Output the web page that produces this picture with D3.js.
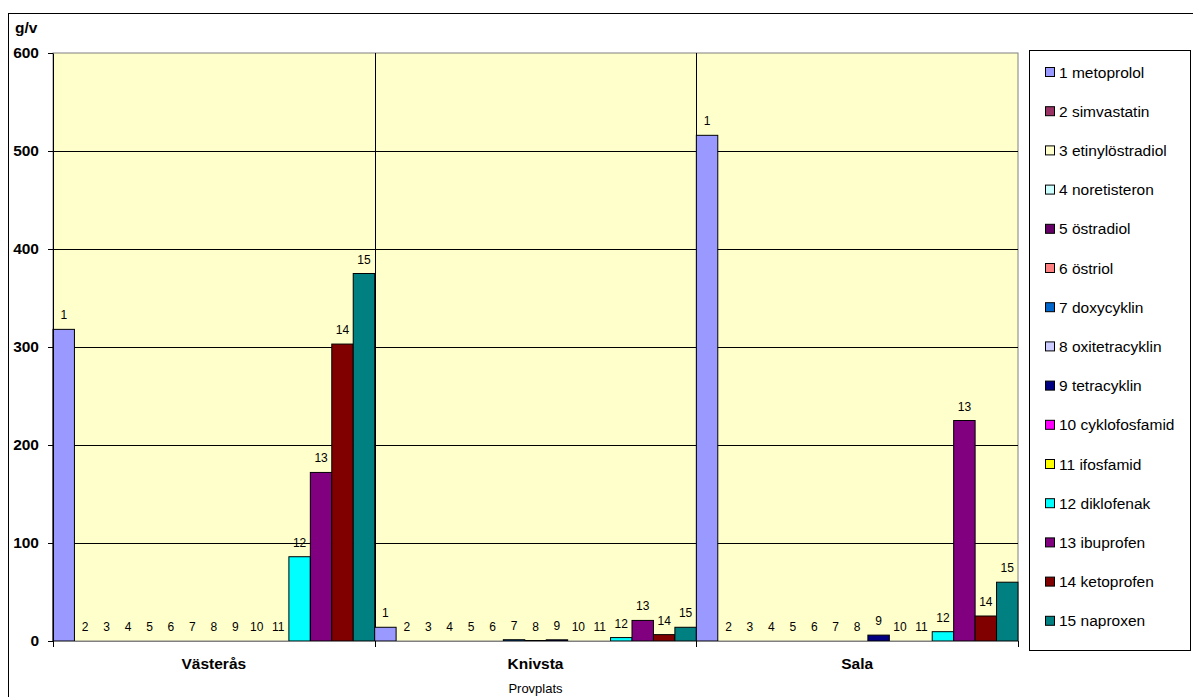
<!DOCTYPE html>
<html><head><meta charset="utf-8">
<script src="https://cdn.jsdelivr.net/npm/d3@7"></script>
<style>body{margin:0;background:#fff;}svg{display:block;font-family:"Liberation Sans",Arial,sans-serif;}</style>
</head><body>
<script>
const categories = ["Västerås", "Knivsta", "Sala"];
const series = ["1 metoprolol","2 simvastatin","3 etinylöstradiol","4 noretisteron","5 östradiol","6 östriol","7 doxycyklin","8 oxitetracyklin","9 tetracyklin","10 cyklofosfamid","11 ifosfamid","12 diklofenak","13 ibuprofen","14 ketoprofen","15 naproxen"];
const colors = ["#9999FF","#993366","#FFFFCC","#CCFFFF","#660066","#FF8080","#0066CC","#CCCCFF","#000080","#FF00FF","#FFFF00","#00FFFF","#800080","#800000","#008080"];
const valuesVasteras = [318,0,0,0,0,0,0,0,0,0,0,86,172,303,375];
const valuesKnivsta  = [14,0,0,0,0,0,1.3,0.5,1.2,0,0,3.5,21,6.5,14];
const valuesSala     = [516,0,0,0,0,0,0,0,6,0,0,9.5,225,25.5,60];
const yTicks = [0,100,200,300,400,500,600];

const data = [valuesVasteras, valuesKnivsta, valuesSala];
const W = 1193, H = 697;
const m = {l:53, r:1018, t:53, b:641};

const svg = d3.select("body").append("svg").attr("width",W).attr("height",H);
svg.append("rect").attr("x",8.5).attr("y",13.5).attr("width",W).attr("height",H).attr("fill","#fff").attr("stroke","#000").attr("stroke-width",1);

const x0 = d3.scaleBand().domain(categories).range([m.l,m.r]).padding(0);
const x1 = d3.scaleBand().domain(d3.range(series.length)).range([0,x0.bandwidth()]).padding(0);
const y = d3.scaleLinear().domain([0,600]).range([m.b,m.t]);

svg.append("rect").attr("x",m.l).attr("y",m.t).attr("width",m.r-m.l).attr("height",m.b-m.t).attr("fill","#FFFFCC").attr("stroke","#808080");

svg.append("g").selectAll("line").data(yTicks.slice(1,-1)).join("line")
  .attr("x1",m.l).attr("x2",m.r).attr("y1",d=>Math.round(y(d))+0.5).attr("y2",d=>Math.round(y(d))+0.5)
  .attr("stroke","#000").attr("stroke-width",1);
svg.append("g").selectAll("line").data(categories.slice(1)).join("line")
  .attr("x1",d=>Math.round(x0(d))+0.5).attr("x2",d=>Math.round(x0(d))+0.5).attr("y1",m.t).attr("y2",m.b)
  .attr("stroke","#000").attr("stroke-width",1);

const g = svg.append("g").selectAll("g").data(categories).join("g").attr("transform",d=>`translate(${x0(d)},0)`);
g.selectAll("rect").data((d,i)=>data[i].map((v,j)=>({v,j}))).join("rect")
  .attr("x",d=>x1(d.j)).attr("width",x1.bandwidth())
  .attr("y",d=>y(d.v)).attr("height",d=>m.b-y(d.v))
  .attr("fill",d=>colors[d.j]).attr("stroke","#000").attr("stroke-width",d=>d.v>0?1:0);
g.selectAll("text").data((d,i)=>data[i].map((v,j)=>({v,j}))).join("text")
  .attr("x",d=>x1(d.j)+x1.bandwidth()/2).attr("y",d=>y(d.v)-10)
  .attr("text-anchor","middle").attr("font-size",12).attr("fill","#000")
  .text(d=>d.j+1);

const ya = svg.append("g").attr("transform",`translate(${m.l},0)`)
  .call(d3.axisLeft(y).tickValues(yTicks).tickSize(5).tickSizeOuter(0).tickPadding(9));
ya.select(".domain").attr("stroke","#000");
ya.selectAll("text").attr("font-size",15.5).attr("font-weight","bold").attr("font-family","Liberation Sans, Arial, sans-serif").attr("fill","#000");
ya.selectAll(".tick line").attr("stroke","#000");

const xa = svg.append("g").attr("transform",`translate(0,${m.b})`);
xa.append("line").attr("x1",m.l).attr("x2",m.r).attr("y1",0.5).attr("y2",0.5).attr("stroke","#808080");
xa.selectAll("line.t").data([...categories.map(c=>x0(c)), m.r]).join("line").attr("class","t")
  .attr("x1",d=>Math.round(d)+0.5).attr("x2",d=>Math.round(d)+0.5).attr("y1",0).attr("y2",6).attr("stroke","#000");
xa.selectAll("text").data(categories).join("text")
  .attr("x",d=>x0(d)+x0.bandwidth()/2).attr("y",28)
  .attr("text-anchor","middle").attr("font-size",15.5).attr("font-weight","bold").text(d=>d);

svg.append("text").attr("x",15).attr("y",33).attr("font-size",15.5).attr("font-weight","bold").text("g/v");
svg.append("text").attr("x",(m.l+m.r)/2).attr("y",693).attr("text-anchor","middle").attr("font-size",13).text("Provplats");

const lg = svg.append("g");
lg.append("rect").attr("x",1029.5).attr("y",50.5).attr("width",161).attr("height",600).attr("fill","#fff").attr("stroke","#000");
const li = lg.selectAll("g").data(series).join("g").attr("transform",(d,i)=>`translate(1045,${72+i*39.2})`);
li.append("rect").attr("x",0.5).attr("y",-4.5).attr("width",9).attr("height",9).attr("fill",(d,i)=>colors[i]).attr("stroke","#000");
li.append("text").attr("x",14).attr("y",5.5).attr("font-size",15.5).text(d=>d);
</script>
</body></html>
